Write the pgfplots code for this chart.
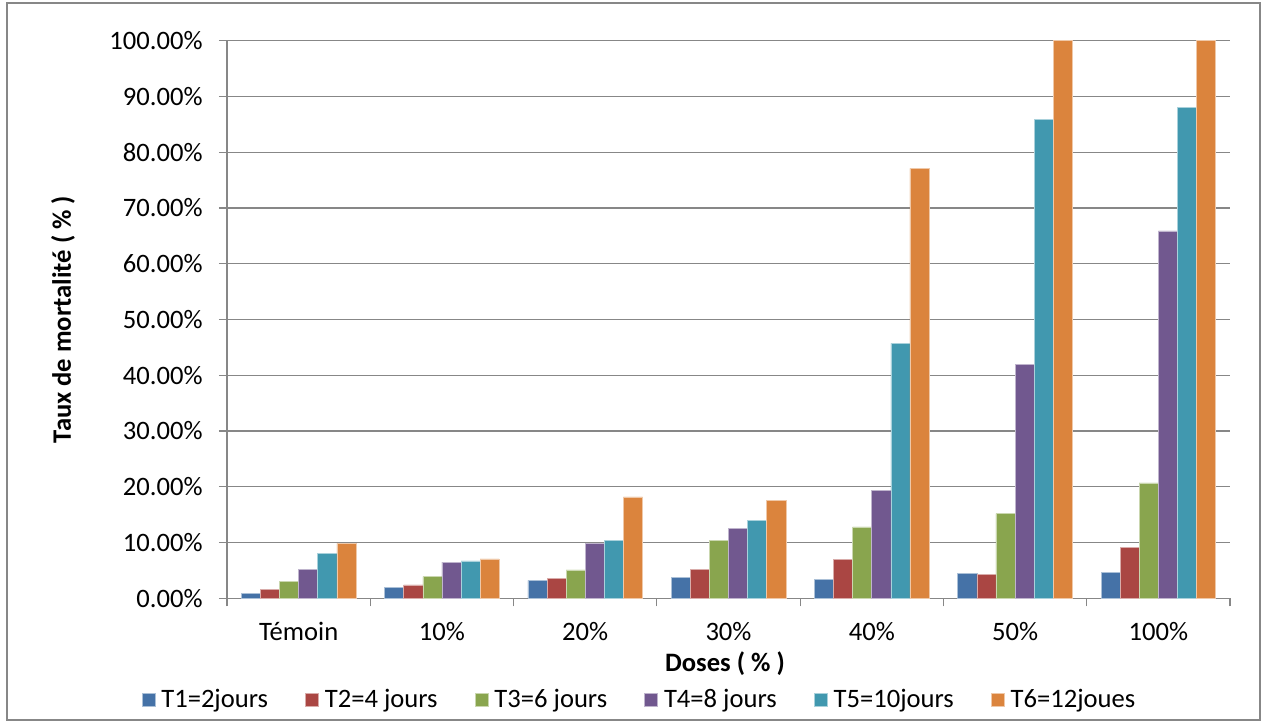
\documentclass[border=0pt]{standalone}
\usepackage{fontspec}
\setmainfont{Carlito}
\usepackage{pgfplots}
\pgfplotsset{compat=1.18}

\definecolor{cT1}{HTML}{4572A7}
\definecolor{cT2}{HTML}{AA4643}
\definecolor{cT3}{HTML}{89A54E}
\definecolor{cT4}{HTML}{71588F}
\definecolor{cT5}{HTML}{4198AF}
\definecolor{cT6}{HTML}{DB843D}
\definecolor{axgray}{HTML}{878787}

\pgfplotsset{
  mybar/.style={fill=#1, draw=#1!45!white, line width=0.3pt},
}

\begin{document}
\begin{tikzpicture}
\useasboundingbox (-113.5pt,-62.85pt) rectangle (518pt,299.15pt);
\draw[axgray, line width=0.6pt] (-110pt,-60.85pt) rectangle (516.5pt,297.65pt);
\begin{axis}[
    at={(0pt,0pt)}, anchor=south west,
    scale only axis,
    width=501.5pt, height=278.8pt,
    ybar, bar width=0.1333,
    xmin=-0.5, xmax=6.5,
    ymin=0, ymax=100,
    axis x line*=bottom, axis y line*=left,
    axis line style={axgray, line width=0.6pt, -},
    tick align=outside,
    xtick={0,...,6},
    xticklabels={Témoin,10\%,20\%,30\%,40\%,50\%,100\%},
    minor xtick={-0.5,0.5,...,6.5},
    major x tick style={draw=none},
    minor x tick style={axgray, line width=0.6pt},
    minor tick length=4pt,
    major tick length=4pt,
    ytick={0,10,...,100},
    yticklabels={0.00\%,10.00\%,20.00\%,30.00\%,40.00\%,50.00\%,60.00\%,70.00\%,80.00\%,90.00\%,100.00\%},
    y tick style={axgray, line width=0.6pt},
    ymajorgrids,
    major grid style={axgray, line width=0.6pt},
    ticklabel style={font=\fontsize{13.3}{15}\selectfont},
    yticklabel style={anchor=east, inner sep=0pt, xshift=-8pt},
    xticklabel style={anchor=base, inner sep=0pt, yshift=-17.3pt},
    xlabel={Doses ( \% )},
    ylabel={Taux de mortalité ( \% )},
    label style={font=\bfseries\fontsize{13.3}{15}\selectfont},
    xlabel style={at={(axis description cs:0.4965,-0.132)}, anchor=base},
    ylabel style={at={(axis description cs:-0.1635,0.5)}, anchor=center},
    legend columns=-1,
    legend style={at={(0.4123,0)}, anchor=center, yshift=-50.6pt,
      draw=none, fill=none, font=\fontsize{13.3}{15}\selectfont,
      /tikz/every even column/.append style={column sep=16.6pt}},
    legend image code/.code={\fill[#1] (0pt,-3.25pt) rectangle (6.5pt,3.25pt);},
]
\addplot[mybar=cT1, bar shift=-0.3333] coordinates {(0,0.9) (1,1.97) (2,3.2) (3,3.8) (4,3.4) (5,4.4) (6,4.6)};
\addlegendentry{\hspace{1pt}T1=2jours}
\addplot[mybar=cT2, bar shift=-0.2] coordinates {(0,1.6) (1,2.4) (2,3.6) (3,5.2) (4,7.0) (5,4.3) (6,9.1)};
\addlegendentry{\hspace{1pt}T2=4 jours}
\addplot[mybar=cT3, bar shift=-0.0667] coordinates {(0,3.0) (1,3.9) (2,5.1) (3,10.4) (4,12.8) (5,15.2) (6,20.7)};
\addlegendentry{\hspace{1pt}T3=6 jours}
\addplot[mybar=cT4, bar shift=0.0667] coordinates {(0,5.2) (1,6.5) (2,9.8) (3,12.5) (4,19.3) (5,42.0) (6,65.9)};
\addlegendentry{\hspace{1pt}T4=8 jours}
\addplot[mybar=cT5, bar shift=0.2] coordinates {(0,8.0) (1,6.7) (2,10.4) (3,13.9) (4,45.7) (5,85.9) (6,88.1)};
\addlegendentry{\hspace{1pt}T5=10jours}
\addplot[mybar=cT6, bar shift=0.3333] coordinates {(0,9.85) (1,7.05) (2,18.2) (3,17.6) (4,77.1) (5,100) (6,100)};
\addlegendentry{\hspace{1pt}T6=12joues}
\end{axis}
\end{tikzpicture}
\end{document}
